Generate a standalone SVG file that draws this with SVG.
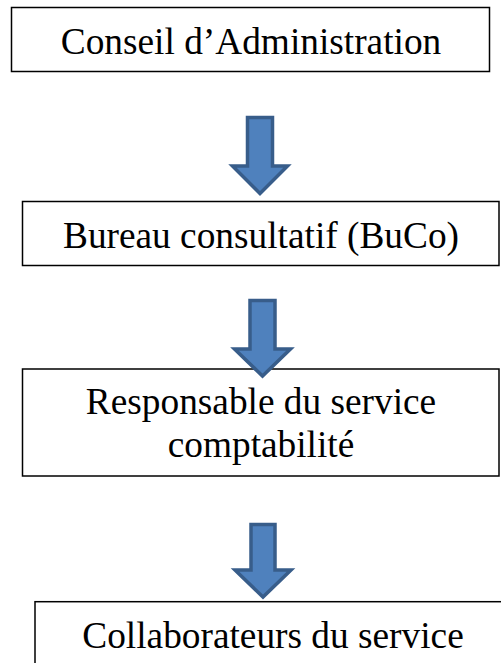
<svg xmlns="http://www.w3.org/2000/svg" width="501" height="663" viewBox="0 0 501 663">
<style>
.box{fill:#fff;stroke:#000;stroke-width:1.5}
.lbl{font-family:"Liberation Serif","Times New Roman",serif;font-size:37.33px;fill:#000;text-anchor:middle}
.arr{fill:#4F81BD;stroke:#385D8A;stroke-width:3.5;stroke-linejoin:miter}
</style>
<rect width="501" height="663" fill="#fff"/>
<g id="node-conseil">
<rect class="box" x="11.5" y="7.5" width="478" height="64"/>
<text class="lbl" x="251" y="53.5">Conseil d’Administration</text>
</g>
<g id="node-buco">
<rect class="box" x="22.5" y="201.5" width="476.5" height="64"/>
<text class="lbl" x="261" y="247.5">Bureau consultatif (BuCo)</text>
</g>
<g id="node-responsable">
<rect class="box" x="22.5" y="369" width="476.5" height="107"/>
<text class="lbl" x="261" y="413.5">Responsable du service</text>
<text class="lbl" x="261" y="457">comptabilité</text>
</g>
<g id="node-collaborateurs">
<rect class="box" x="35" y="601.7" width="476" height="80"/>
<text class="lbl" x="273" y="647.7">Collaborateurs du service</text>
</g>
<g id="connectors">
<path class="arr" d="M247.5,117.5 H272.5 V166 H287.5 L260,193.5 L232.5,166 H247.5 Z"/>
<path class="arr" d="M250,300.5 H275 V349 H290.5 L262.5,376 L234.5,349 H250 Z"/>
<path class="arr" d="M251,524.5 H275 V570 H291 L263,597 L235,570 H251 Z"/>
</g>
</svg>
